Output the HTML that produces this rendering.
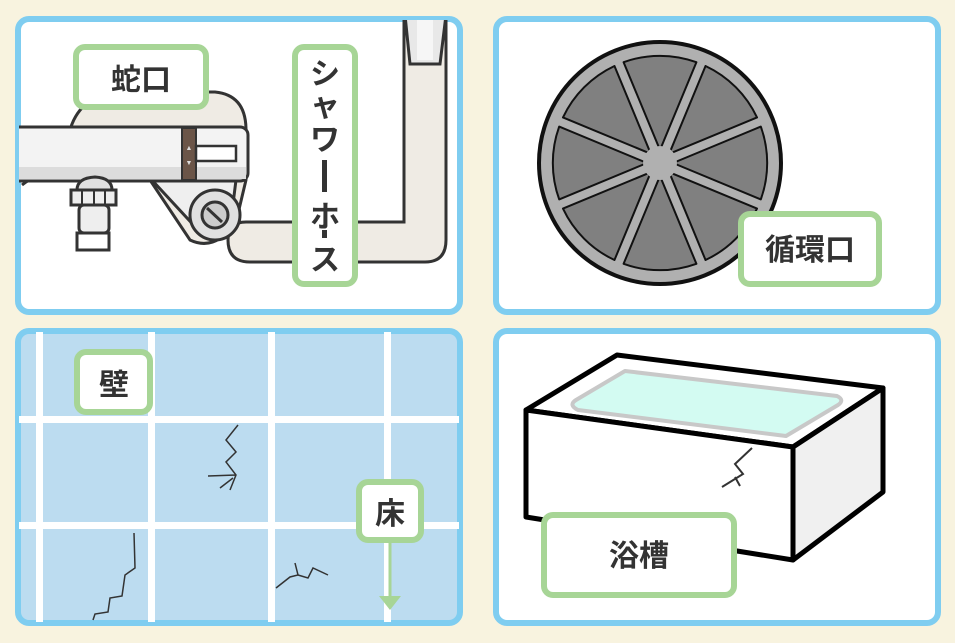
<!DOCTYPE html>
<html><head><meta charset="utf-8"><style>
html,body{margin:0;padding:0;background:#f8f3df;}
svg{display:block}
text{font-family:"Liberation Sans","Noto Sans CJK JP",sans-serif;font-weight:bold;fill:#333;}
</style></head><body>
<svg width="955" height="643" viewBox="0 0 955 643" xmlns="http://www.w3.org/2000/svg">
<rect width="955" height="643" fill="#f8f3df"/>
<defs>
<clipPath id="c1"><rect x="19" y="20" width="440" height="291" rx="9"/></clipPath>
<clipPath id="c3"><rect x="19" y="332" width="440" height="290" rx="9"/></clipPath>
<path id="wd" d="M0,-13 L-36.4,-100.8 A107 107 0 0 1 36.4,-100.8 Z" fill="#808080" stroke="#111" stroke-width="2" stroke-linejoin="round"/>
</defs>
<!-- Panel TL -->
<rect x="18" y="19" width="442" height="293" rx="11" fill="#fff" stroke="#7fcdf0" stroke-width="6"/>
<g clip-path="url(#c1)">
 <path d="M404 20 V222 H246 Q228 222 228 240 Q228 262 250 262 H425 Q446 262 446 240 V20 Z" fill="#efebe4" stroke="#333" stroke-width="3"/>
 <path d="M405 15 L410 64 H440 L446 15 Z" fill="#e8e8e8" stroke="#333" stroke-width="3"/>
 <rect x="417" y="20" width="16" height="40" fill="#f6f6f6"/>
 <path d="M70 130 Q80 95 120 92 H215 Q246 95 246 130 V180 L236 222 Q215 252 190 240 L150 180 Z" fill="#efebe4" stroke="#333" stroke-width="3"/>
 <path d="M22 185 Q40 170 70 175" fill="none" stroke="#333" stroke-width="3"/>
 <path d="M150 178 L200 232 L230 228 L236 180 Z" fill="#efefef" stroke="#333" stroke-width="3"/>
 <circle cx="215" cy="215" r="25" fill="#e0e0e0" stroke="#333" stroke-width="3"/>
 <circle cx="215" cy="215" r="13" fill="#ccc" stroke="#333" stroke-width="3"/>
 <line x1="207" y1="208" x2="222" y2="222" stroke="#333" stroke-width="3"/>
 <rect x="10" y="127" width="238" height="54" rx="8" fill="#f3f3f3" stroke="#333" stroke-width="3"/>
 <rect x="12" y="167" width="234" height="12" fill="#dcdcdc"/>
 <rect x="182" y="128" width="14" height="52" fill="#6b5548" stroke="#333" stroke-width="2"/>
 <text x="189" y="150" font-size="7" text-anchor="middle" style="fill:#ddd">▲</text>
 <text x="189" y="165" font-size="7" text-anchor="middle" style="fill:#ddd">▼</text>
 <rect x="196" y="146" width="40" height="15" fill="#fff" stroke="#333" stroke-width="2.5"/>
 <path d="M77 190 Q77 178 95 177 Q112 178 112 190 Z" fill="#e0e0e0" stroke="#333" stroke-width="3"/>
 <rect x="71" y="190" width="45" height="15" fill="#eee" stroke="#333" stroke-width="3"/>
 <line x1="82" y1="190" x2="82" y2="205" stroke="#333" stroke-width="2"/>
 <line x1="94" y1="190" x2="94" y2="205" stroke="#333" stroke-width="2"/>
 <line x1="105" y1="190" x2="105" y2="205" stroke="#333" stroke-width="2"/>
 <rect x="79" y="205" width="30" height="28" rx="5" fill="#eee" stroke="#333" stroke-width="3"/>
 <rect x="77" y="233" width="32" height="17" fill="#fff" stroke="#333" stroke-width="3"/>
</g>
<rect x="76" y="47" width="130" height="60" rx="9" fill="#fff" stroke="#a7d596" stroke-width="6"/>
<text x="141" y="90" font-size="30" text-anchor="middle">蛇口</text>
<rect x="295" y="47" width="60" height="237" rx="9" fill="#fff" stroke="#a7d596" stroke-width="6"/>
<text x="325" y="84" font-size="30" text-anchor="middle">シ</text>
<text x="325" y="116" font-size="30" text-anchor="middle">ャ</text>
<text x="325" y="150" font-size="30" text-anchor="middle">ワ</text>
<rect x="322" y="160" width="5" height="32" fill="#333"/>
<text x="325" y="227" font-size="30" text-anchor="middle">ホ</text>
<rect x="322" y="230" width="5" height="8" fill="#333"/>
<text x="325" y="270" font-size="30" text-anchor="middle">ス</text>

<!-- Panel TR -->
<rect x="496" y="19" width="442" height="293" rx="11" fill="#fff" stroke="#7fcdf0" stroke-width="6"/>
<circle cx="660" cy="163" r="121" fill="#b0b0b0" stroke="#111" stroke-width="4"/>
<g transform="translate(660,163)">
 <use href="#wd"/>
 <use href="#wd" transform="rotate(45)"/>
 <use href="#wd" transform="rotate(90)"/>
 <use href="#wd" transform="rotate(135)"/>
 <use href="#wd" transform="rotate(180)"/>
 <use href="#wd" transform="rotate(225)"/>
 <use href="#wd" transform="rotate(270)"/>
 <use href="#wd" transform="rotate(315)"/>
 <circle r="17" fill="#b0b0b0"/>
</g>
<rect x="741" y="214" width="138" height="70" rx="9" fill="#fff" stroke="#a7d596" stroke-width="6"/>
<text x="810" y="260" font-size="30" text-anchor="middle">循環口</text>

<!-- Panel BL -->
<rect x="18" y="331" width="442" height="292" rx="11" fill="#bcdcf0" stroke="#7fcdf0" stroke-width="6"/>
<g clip-path="url(#c3)" fill="#fff">
 <rect x="36" y="330" width="7" height="300"/>
 <rect x="148" y="330" width="7" height="300"/>
 <rect x="268" y="330" width="7" height="300"/>
 <rect x="384" y="330" width="7" height="300"/>
 <rect x="15" y="416" width="450" height="7" />
 <rect x="15" y="522" width="450" height="7" />
</g>
<g fill="none" stroke="#333" stroke-width="1.5">
 <path d="M238 425 L226 440 L236 452 L226 462 L236 475 L230 490 M236 475 L208 476 M233 478 L220 488"/>
 <path d="M134 533 L135 568 L125 575 L122 596 L110 598 L108 612 L95 614 L93 620"/>
 <path d="M276 588 L290 577 L298 575 L295 563 M298 575 L308 578 L313 568 L328 575"/>
</g>
<rect x="77" y="352" width="73" height="60" rx="9" fill="#fff" stroke="#a7d596" stroke-width="6"/>
<text x="114" y="395" font-size="30" text-anchor="middle">壁</text>
<line x1="390" y1="543" x2="390" y2="600" stroke="#a7d596" stroke-width="3"/>
<path d="M379 596 L401 596 L390 610 Z" fill="#a7d596"/>
<rect x="359" y="482" width="62" height="58" rx="9" fill="#fff" stroke="#a7d596" stroke-width="6"/>
<text x="390" y="524" font-size="30" text-anchor="middle">床</text>

<!-- Panel BR -->
<rect x="496" y="331" width="442" height="292" rx="11" fill="#fff" stroke="#7fcdf0" stroke-width="6"/>
<polygon points="526,410 617,355 883,388 793,447" fill="#fff" stroke="#000" stroke-width="5" stroke-linejoin="round"/>
<polygon points="793,447 883,388 883,492 793,560" fill="#f0f0f0" stroke="#000" stroke-width="5" stroke-linejoin="round"/>
<polygon points="526,410 793,447 793,560 526,517" fill="#fff" stroke="#000" stroke-width="5" stroke-linejoin="round"/>
<path d="M625 371 L837 396 Q845 400 838 405 L786 436 L578 410 Q568 405 576 400 Z" fill="#d3fbf2" stroke="#c8c8c8" stroke-width="4" stroke-linejoin="round"/>
<path d="M752 448 L735 464 L743 474 L722 487 M735 477 L740 486" fill="none" stroke="#333" stroke-width="2"/>
<rect x="544" y="515" width="190" height="80" rx="9" fill="#fff" stroke="#a7d596" stroke-width="6"/>
<text x="639" y="566" font-size="30" text-anchor="middle">浴槽</text>
</svg>
</body></html>
